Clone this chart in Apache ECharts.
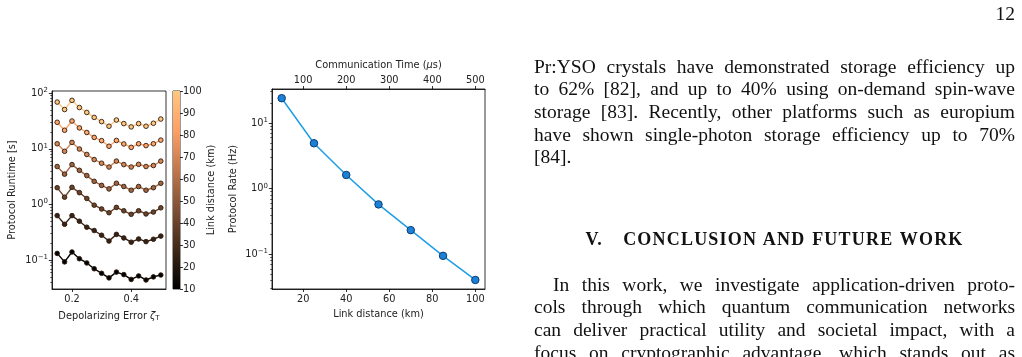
<!DOCTYPE html>
<html><head><meta charset="utf-8">
<script src="https://cdn.jsdelivr.net/npm/echarts@6/dist/echarts.min.js"></script>
<style>
html,body{margin:0;padding:0;background:#fff;width:1022px;height:357px;overflow:hidden}
#chart{position:absolute;left:0;top:0;width:1022px;height:357px}
.tx{position:absolute;font-family:'Liberation Serif',serif;color:#111;font-size:19.5px;line-height:22.7px}
.jl{text-align:justify;text-align-last:justify;white-space:nowrap}
.ll{text-align:left;white-space:nowrap}
</style></head><body>
<div id="chart"></div>
<div class="tx" style="right:7px;top:2.5px;">12</div>
<div class="tx" style="left:534px;top:55.6px;width:481px;">
<div class="jl">Pr:YSO crystals have demonstrated storage efficiency up</div>
<div class="jl">to 62% [82], and up to 40% using on-demand spin-wave</div>
<div class="jl">storage [83]. Recently, other platforms such as europium</div>
<div class="jl">have shown single-photon storage efficiency up to 70%</div>
<div class="ll">[84].</div>
</div>
<div class="tx" style="left:534px;top:227.6px;width:481px;text-align:center;white-space:nowrap;font-weight:bold;font-size:18px;letter-spacing:1.2px;word-spacing:1px;">V.&nbsp;&nbsp;&nbsp;CONCLUSION AND FUTURE WORK</div>
<div class="tx" style="left:534px;top:273.6px;width:481px;">
<div class="jl" style="margin-left:19px;">In this work, we investigate application-driven proto-</div>
<div class="jl">cols through which quantum communication networks</div>
<div class="jl">can deliver practical utility and societal impact, with a</div>
<div class="jl">focus on cryptographic advantage, which stands out as</div>
</div>
<script>
// ---- data ----
const errX = [0.15, 0.175, 0.2, 0.225, 0.25, 0.275, 0.3, 0.325, 0.35, 0.375, 0.4, 0.425, 0.45, 0.475, 0.5];
const linkKm = [10, 25, 40, 55, 70, 85, 100];
const rt10  = [0.132, 0.093, 0.14, 0.106, 0.089, 0.070, 0.058, 0.048, 0.061, 0.055, 0.045, 0.052, 0.044, 0.050, 0.054];
const rt25  = [0.63, 0.44, 0.63, 0.50, 0.39, 0.34, 0.28, 0.22, 0.29, 0.25, 0.21, 0.24, 0.215, 0.237, 0.27];
const rt40  = [2.0, 1.35, 2.03, 1.63, 1.28, 0.97, 0.83, 0.71, 0.885, 0.77, 0.665, 0.77, 0.675, 0.73, 0.87];
const rt55  = [4.8, 3.5, 5.2, 4.1, 3.3, 2.6, 2.2, 1.9, 2.4, 2.1, 1.8, 2.1, 1.8, 2.0, 2.4];
const rt70  = [12.3, 9.0, 13.0, 9.9, 7.9, 6.4, 5.5, 4.7, 6.0, 5.2, 4.7, 5.25, 4.8, 5.0, 6.0];
const rt85  = [29.9, 21.5, 31.5, 23.7, 19.6, 16.0, 14.0, 11.1, 14.1, 12.2, 10.6, 12.3, 11.4, 12.3, 14.3];
const rt100 = [69, 50.7, 74, 55, 44.9, 36.6, 30.7, 25.4, 32.8, 28.3, 24.7, 28.3, 25.4, 28.7, 34.2];
const runtimes = [rt10, rt25, rt40, rt55, rt70, rt85, rt100];
const cbRange = [10, 100];

const rateKm = [10, 25, 40, 55, 70, 85, 100];
const rateHz = [23.9, 4.92, 1.62, 0.577, 0.234, 0.095, 0.0408];

const errTicks = [0.2, 0.4];
const runtimeTicks = [0.1, 1, 10, 100];
const rateTicks = [0.1, 1, 10];
const kmTicks = [20, 40, 60, 80, 100];
const timeTicks = [100, 200, 300, 400, 500];

// ---- helpers ----
function copper(t) {
  const r = Math.round(255 * Math.min(1, 1.25 * t));
  const g = Math.round(255 * Math.min(1, 0.7812 * t));
  const b = Math.round(255 * Math.min(1, 0.4975 * t));
  return 'rgb(' + r + ',' + g + ',' + b + ')';
}
function minorTicks(lo, hi) {
  const out = [];
  for (let e = -3; e <= 3; e++) for (let m = 2; m <= 9; m++) {
    const v = m * Math.pow(10, e);
    if (v > lo && v < hi) out.push(v);
  }
  return out;
}
function logFmt(v) {
  const e = Math.round(Math.log10(v));
  return '{b|10}{sup|' + (e < 0 ? '\u2212' + (-e) : e) + '}';
}
const FONT = 'DejaVu Sans';
const TXT = '#222';
const FS = 9.8;
const lblRich = {
  b: {fontFamily: FONT, fontSize: FS, color: TXT},
  sup: {fontFamily: FONT, fontSize: 7, color: TXT, padding: [0, 0, 6, 0]}
};
const nameStyle = {fontFamily: FONT, fontSize: FS, color: TXT,
  rich: {
    i: {fontFamily: FONT, fontStyle: 'italic', fontSize: FS, color: TXT},
    s: {fontFamily: FONT, fontSize: 7, color: TXT, padding: [5, 0, 0, 0]}
  }};
const lineStyleAx = {color: '#000', width: 0.8};
function baseAxis(extra) {
  return Object.assign({
    axisLine: {show: true, onZero: false, lineStyle: lineStyleAx},
    axisTick: {show: true, length: 3, lineStyle: lineStyleAx},
    axisLabel: {fontFamily: FONT, fontSize: FS, color: TXT, margin: 4},
    splitLine: {show: false},
    nameTextStyle: nameStyle
  }, extra);
}
function lbl(extra) {
  return Object.assign({fontFamily: FONT, fontSize: FS, color: TXT, margin: 4}, extra);
}

const L = {min: 0.0303, max: 109};
const R = {min: 0.0297, max: 33};

const chart = echarts.init(document.getElementById('chart'), null, {renderer: 'canvas'});
const series = runtimes.map((arr, i) => {
  const t = (linkKm[i] - cbRange[0]) / (cbRange[1] - cbRange[0]);
  const c = copper(t);
  return {
    type: 'line', name: linkKm[i] + ' km', xAxisIndex: 0, yAxisIndex: 0,
    data: errX.map((x, j) => [x, arr[j]]),
    symbol: 'circle', symbolSize: 4.6, showSymbol: true,
    lineStyle: {color: c, width: 1.4},
    itemStyle: {color: c, borderColor: '#2e1b0d', borderWidth: 0.9},
    z: 2 + i, silent: true
  };
});
series.push({
  type: 'bar', xAxisIndex: 1, yAxisIndex: 2, data: [cbRange[1]], barWidth: '100%', silent: true,
  itemStyle: {color: new echarts.graphic.LinearGradient(0, 1, 0, 0, [
    {offset: 0, color: copper(0)}, {offset: 0.8, color: copper(0.8)}, {offset: 1, color: copper(1)}])}
});
series.push({
  type: 'line', xAxisIndex: 2, yAxisIndex: 3, silent: true,
  data: rateKm.map((x, i) => [x, rateHz[i]]),
  symbol: 'circle', symbolSize: 7.5, showSymbol: true,
  lineStyle: {color: '#1f9ee8', width: 1.5},
  itemStyle: {color: '#1b80d8', borderColor: '#0c3d70', borderWidth: 1}
});

chart.setOption({
  animation: false,
  backgroundColor: 'transparent',
  grid: [
    {left: 52, right: 856, top: 91, bottom: 68, show: true, borderColor: '#000', borderWidth: 0.8},
    {left: 173, right: 842, top: 91, bottom: 68, show: true, borderColor: '#000', borderWidth: 0.8},
    {left: 272, right: 537, top: 89, bottom: 68, show: true, borderColor: '#000', borderWidth: 0.8}
  ],
  xAxis: [
    baseAxis({type: 'value', gridIndex: 0, min: 0.1325, max: 0.5175,
      axisTick: {show: true, length: 3, lineStyle: lineStyleAx, customValues: errTicks},
      axisLabel: lbl({margin: 5, customValues: errTicks, formatter: v => v.toFixed(1)}),
      name: 'Depolarizing Error {i|\u03B6}{s|T}', nameLocation: 'middle', nameGap: 21}),
    {type: 'category', gridIndex: 1, data: ['cb'], show: false},
    baseAxis({type: 'value', gridIndex: 2, min: 5.5, max: 104.5,
      axisTick: {show: true, length: 3, lineStyle: lineStyleAx, customValues: kmTicks},
      axisLabel: lbl({margin: 5, customValues: kmTicks}),
      name: 'Link distance (km)', nameLocation: 'middle', nameGap: 20}),
    baseAxis({type: 'value', gridIndex: 2, position: 'top', min: 27.5, max: 522.5,
      axisTick: {show: true, length: 3, lineStyle: lineStyleAx, customValues: timeTicks},
      axisLabel: lbl({margin: 4, customValues: timeTicks}),
      name: 'Communication Time ({i|\u03BC}s)', nameLocation: 'middle', nameGap: 19})
  ],
  yAxis: [
    baseAxis({type: 'log', logBase: 10, gridIndex: 0, min: L.min, max: L.max,
      axisTick: {show: true, length: 3.2, lineStyle: lineStyleAx, customValues: runtimeTicks},
      axisLabel: {margin: 4, customValues: runtimeTicks, formatter: logFmt, rich: lblRich},
      name: 'Protocol Runtime [s]', nameLocation: 'middle', nameGap: 35, nameRotate: 90}),
    {type: 'log', logBase: 10, gridIndex: 0, min: L.min, max: L.max, position: 'left',
      axisLine: {show: false}, splitLine: {show: false}, axisLabel: {show: false},
      axisTick: {show: true, length: 1.8, lineStyle: {color: '#000', width: 0.6}, customValues: minorTicks(L.min, L.max)}},
    baseAxis({type: 'value', gridIndex: 1, min: cbRange[0], max: cbRange[1], interval: 10, position: 'right',
      axisLine: {show: false},
      axisLabel: lbl({margin: 3}),
      name: 'Link distance (km)', nameLocation: 'middle', nameGap: 26, nameRotate: 90}),
    baseAxis({type: 'log', logBase: 10, gridIndex: 2, min: R.min, max: R.max,
      axisTick: {show: true, length: 3.2, lineStyle: lineStyleAx, customValues: rateTicks},
      axisLabel: {margin: 4, customValues: rateTicks, formatter: logFmt, rich: lblRich},
      name: 'Protocol Rate (Hz)', nameLocation: 'middle', nameGap: 34, nameRotate: 90}),
    {type: 'log', logBase: 10, gridIndex: 2, min: R.min, max: R.max, position: 'left',
      axisLine: {show: false}, splitLine: {show: false}, axisLabel: {show: false},
      axisTick: {show: true, length: 1.8, lineStyle: {color: '#000', width: 0.6}, customValues: minorTicks(R.min, R.max)}}
  ],
  series: series
});
</script>
</body></html>
